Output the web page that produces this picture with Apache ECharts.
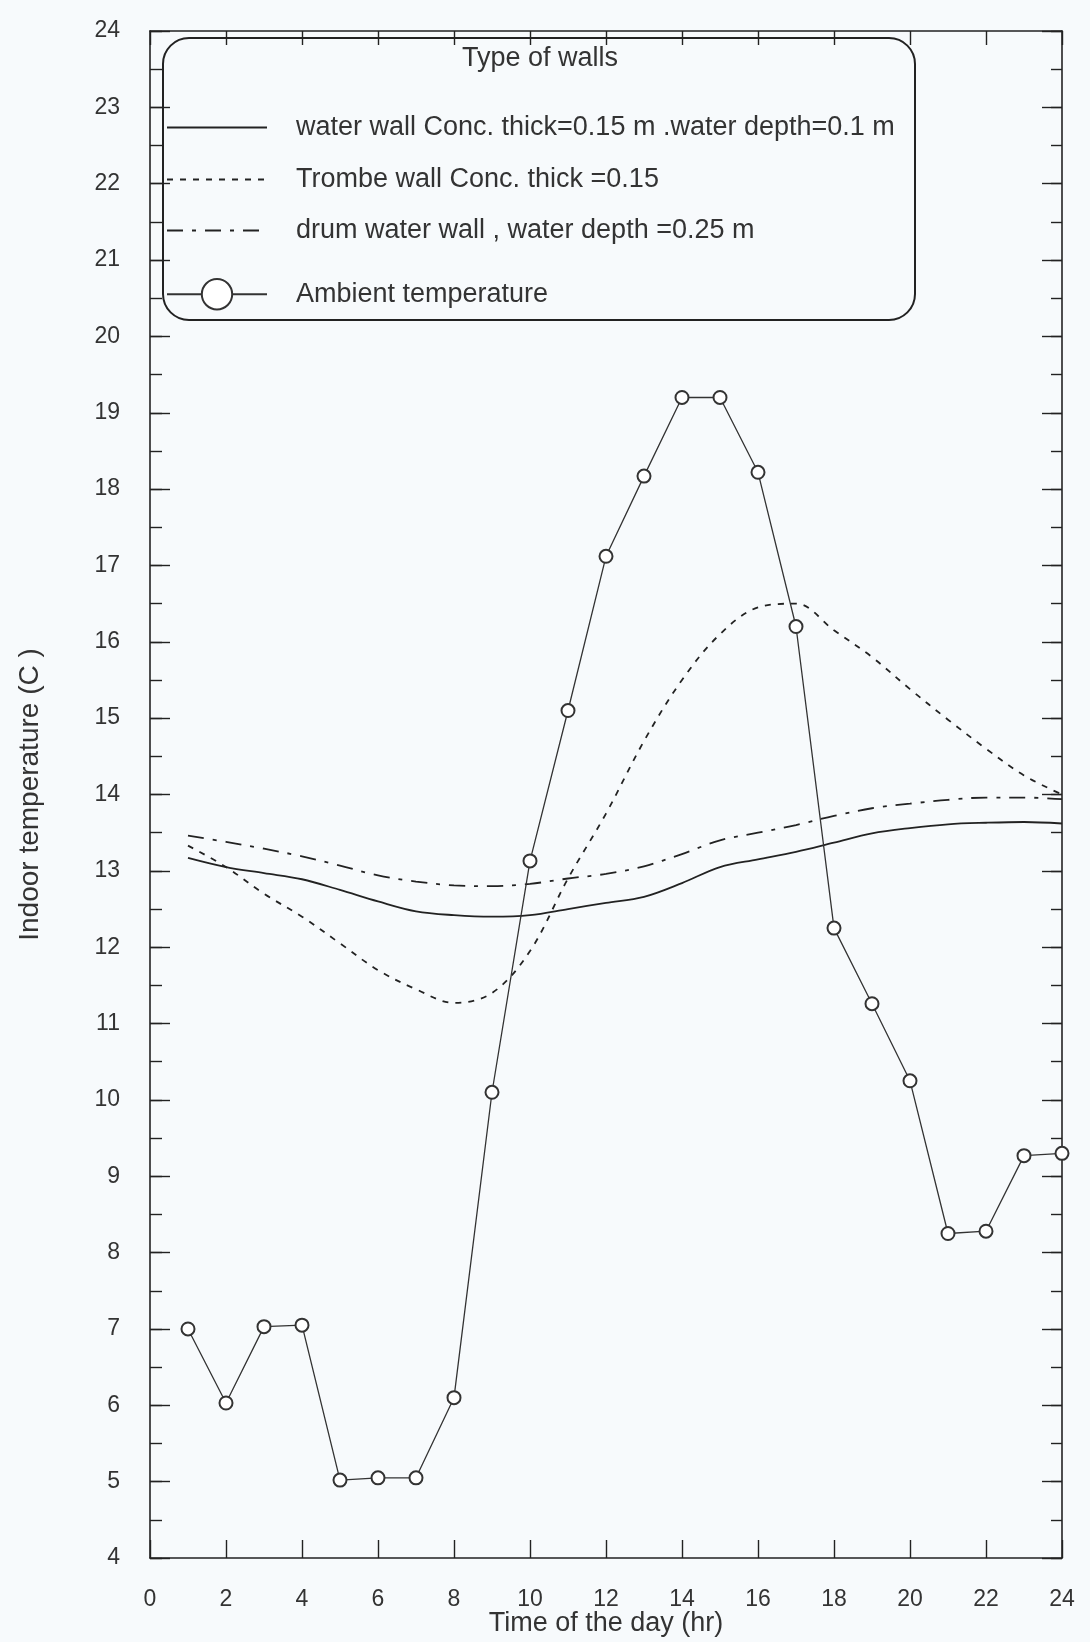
<!DOCTYPE html>
<html>
<head>
<meta charset="utf-8">
<script src="https://cdn.jsdelivr.net/npm/echarts@6/dist/echarts.min.js"></script>
<style>
html,body{margin:0;padding:0;background:#f7fafc;}
#chart{width:1090px;height:1642px;}
</style>
</head>
<body>
<div id="chart"></div>
<script>
// ---- data ----
const hours = [1,2,3,4,5,6,7,8,9,10,11,12,13,14,15,16,17,18,19,20,21,22,23,24];
const waterWall = [13.17,13.05,12.97,12.89,12.75,12.6,12.47,12.42,12.4,12.42,12.5,12.58,12.66,12.84,13.05,13.15,13.25,13.37,13.49,13.56,13.61,13.63,13.64,13.62];
const trombeWall = [13.33,13.05,12.7,12.4,12.05,11.7,11.45,11.27,11.4,11.95,12.9,13.75,14.7,15.5,16.1,16.45,16.5,16.15,15.8,15.38,14.98,14.6,14.25,14.0];
const drumWall = [13.46,13.38,13.29,13.19,13.07,12.94,12.86,12.81,12.8,12.83,12.9,12.96,13.06,13.22,13.4,13.5,13.6,13.72,13.82,13.88,13.93,13.96,13.96,13.94];
const ambient = [7.0,6.03,7.03,7.05,5.02,5.05,5.05,6.1,10.1,13.13,15.1,17.12,18.17,19.2,19.2,18.22,16.2,12.25,11.26,10.25,8.25,8.28,9.27,9.3];
const xTicks = [0,2,4,6,8,10,12,14,16,18,20,22,24];
const yTicks = [4,5,6,7,8,9,10,11,12,13,14,15,16,17,18,19,20,21,22,23,24];
const seriesNames = [
  'water wall Conc. thick=0.15 m .water depth=0.1 m',
  'Trombe wall Conc. thick =0.15',
  'drum water wall , water depth =0.25 m',
  'Ambient temperature'
];
const legendTitle = 'Type of walls';
const xName = 'Time of the day (hr)';
const yName = 'Indoor temperature (C )';

const pair = (vals) => hours.map((h, i) => [h, vals[i]]);
const FONT = 'Liberation Sans';
const INK = '#222';
const YMIN = yTicks[0], YMAX = yTicks[yTicks.length-1];
const XMIN = xTicks[0], XMAX = xTicks[xTicks.length-1];

const chart = echarts.init(document.getElementById('chart'));
const tickStyle = {color: INK, width: 1.4};
const legendText = {fontFamily: FONT, fontSize: 27, color: '#333', padding: [0,0,0,24]};
function mkLegend(name, top, ih, hideSym) {
  const l = {data: [name], orient: 'vertical', left: 166, top: top, padding: 0, itemGap: 0,
    itemWidth: 100, itemHeight: ih, selectedMode: false, textStyle: legendText};
  if (hideSym) l.itemStyle = {opacity: 0};
  return l;
}
function yAx(pos, interval, len, showLine, labels) {
  const a = {type: 'value', position: pos, min: YMIN, max: YMAX, interval: interval,
    axisLine: {show: showLine, lineStyle: {color: INK, width: 1.6}},
    axisTick: {show: true, inside: true, length: len, lineStyle: tickStyle},
    axisLabel: {show: labels, margin: 30, fontFamily: FONT, fontSize: 23, color: '#333'},
    splitLine: {show: false}};
  if (labels) {
    a.name = yName; a.nameLocation = 'middle'; a.nameRotate = 90; a.nameGap = 106;
    a.nameMoveOverlap = false;
    a.nameTextStyle = {fontFamily: FONT, fontSize: 28, color: '#333'};
  }
  return a;
}
chart.setOption({
  backgroundColor: '#f7fafc',
  animation: false,
  grid: {left: 150, right: 28, top: 31, bottom: 84, containLabel: false, outerBoundsMode: 'none'},
  legend: [
    mkLegend(seriesNames[0], 114, 14, true),
    mkLegend(seriesNames[1], 166, 14, true),
    mkLegend(seriesNames[2], 217, 14, true),
    mkLegend(seriesNames[3], 278, 38, false)
  ],
  graphic: [
    {type: 'rect', shape: {x: 163, y: 38, width: 752, height: 282, r: 26},
     style: {fill: 'none', stroke: INK, lineWidth: 2}, z: 1},
    {type: 'text', x: 540, y: 59, style: {text: legendTitle, fontFamily: FONT, fontSize: 27,
     fill: '#333', align: 'center', verticalAlign: 'middle'}, z: 2}
  ],
  xAxis: [
    {type: 'value', position: 'bottom', min: XMIN, max: XMAX, interval: 2,
     axisLine: {show: true, lineStyle: {color: INK, width: 1.6}},
     axisTick: {show: true, inside: true, length: 18, lineStyle: tickStyle},
     axisLabel: {margin: 30, fontFamily: FONT, fontSize: 23, color: '#333'},
     splitLine: {show: false},
     name: xName, nameLocation: 'middle', nameGap: 52, nameMoveOverlap: false,
     nameTextStyle: {fontFamily: FONT, fontSize: 27, color: '#333'}},
    {type: 'value', position: 'top', min: XMIN, max: XMAX, interval: 2,
     axisLine: {show: true, lineStyle: {color: INK, width: 1.6}},
     axisTick: {show: true, inside: true, length: 14, lineStyle: tickStyle},
     axisLabel: {show: false}, splitLine: {show: false}}
  ],
  yAxis: [
    yAx('left', 1, 20, true, true),
    yAx('left', 0.5, 12, false, false),
    yAx('right', 1, 20, true, false),
    yAx('right', 0.5, 11, false, false)
  ],
  series: [
    {name: seriesNames[0], type: 'line', data: pair(waterWall), smooth: 0.35, symbol: 'none',
     lineStyle: {color: INK, width: 1.8, type: 'solid'}, itemStyle: {color: INK}},
    {name: seriesNames[1], type: 'line', data: pair(trombeWall), smooth: 0.35, symbol: 'none',
     lineStyle: {color: INK, width: 1.8, type: [6, 7]}, itemStyle: {color: INK}},
    {name: seriesNames[2], type: 'line', data: pair(drumWall), smooth: 0.35, symbol: 'none',
     lineStyle: {color: INK, width: 1.8, type: [16, 9, 4, 9]}, itemStyle: {color: INK}},
    {name: seriesNames[3], type: 'line', data: pair(ambient), smooth: false,
     symbol: 'emptyCircle', symbolSize: 13,
     lineStyle: {color: '#333', width: 1.3}, itemStyle: {color: '#333', borderWidth: 1.5}}
  ]
});
</script>
</body>
</html>
